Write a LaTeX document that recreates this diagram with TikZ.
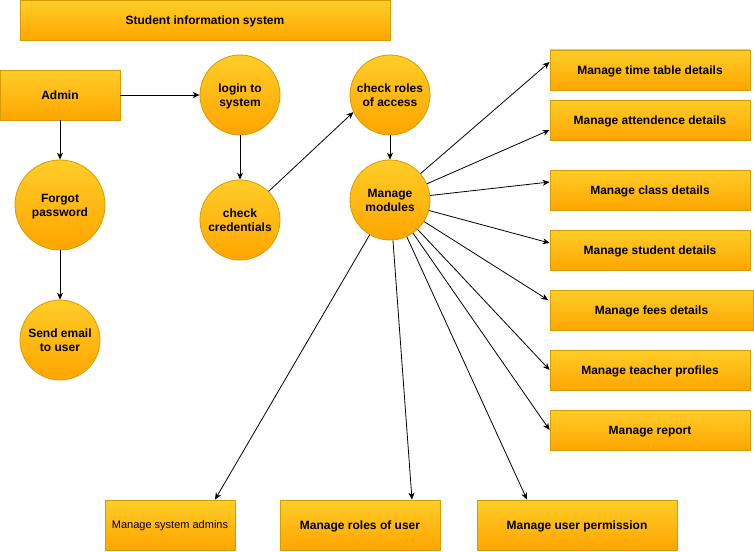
\documentclass[tikz,border=0pt]{standalone}
\usepackage{fontspec}
\setmainfont{Liberation Sans}
\usetikzlibrary{arrows.meta}
\definecolor{boxtop}{HTML}{FFCD28}
\definecolor{boxbot}{HTML}{FFA500}
\definecolor{boxline}{HTML}{D79B00}
\begin{document}
\begin{tikzpicture}[>={Stealth[length=7pt,width=6pt]}, x=1pt, y=-1pt,
        every node/.style={font=\fontsize{12}{14}\selectfont\bfseries, align=center, text depth=0pt},
        box/.style={draw=boxline, line width=0.8pt, top color=boxtop, bottom color=boxbot, minimum height=40pt, inner sep=0pt},
        proc/.style={draw=boxline, line width=0.8pt, top color=boxtop, bottom color=boxbot, circle, minimum size=80pt, inner sep=0pt},
        flow/.style={->, line width=0.8pt}]
                \useasboundingbox (0,0) rectangle (754,551);
                % title and start
                \node[box, minimum width=370pt] (title) at (205,20) {Student information system};
                \node[box, minimum width=120pt, minimum height=50pt] (admin) at (60,95) {Admin};
                \node[proc, minimum size=90pt] (forgot) at (60,205) {Forgot\\password};
                \node[proc] (email) at (60,340) {Send email\\to user};
                \node[proc] (login) at (240,95) {login to\\system};
                \node[proc] (cred) at (240,220) {check\\credentials};
                \node[proc] (roles) at (390,95) {check roles\\of access};
                \node[proc] (mods) at (390,200) {Manage\\modules};
                % modules on the right
                \node[box, minimum width=200pt] (timetab) at (650,70) {Manage time table details};
                \node[box, minimum width=200pt] (attend) at (650,120) {Manage attendence details};
                \node[box, minimum width=200pt] (class) at (650,190) {Manage class details};
                \node[box, minimum width=200pt] (student) at (650,250) {Manage student details};
                \node[box, minimum width=203pt] (fees) at (651.5,310) {Manage fees details};
                \node[box, minimum width=200pt] (teacher) at (650,370) {Manage teacher profiles};
                \node[box, minimum width=200pt] (report) at (650,430) {Manage report};
                % modules below
                \node[box, minimum width=130pt, minimum height=50pt, font=\fontsize{11}{13}\selectfont] (sysadm) at (170,525) {Manage system admins};
                \node[box, minimum width=160pt, minimum height=50pt] (userrole) at (360,525) {Manage roles of user};
                \node[box, minimum width=200pt, minimum height=50pt] (userperm) at (577,525) {Manage user permission};
                % flows
                \draw[flow] (admin) -- (login);
                \draw[flow] (admin) -- (forgot);
                \draw[flow] (forgot) -- (email);
                \draw[flow] (login) -- (cred);
                \draw[flow] (cred.45) -- (roles.205);
                \draw[flow] (roles) -- (mods);
                \draw[flow] (mods) -- ([yshift=8pt]timetab.west);
                \draw[flow] (mods) -- ([yshift=-10pt]attend.west);
                \draw[flow] (mods) -- ([yshift=8pt]class.west);
                \draw[flow] (mods) -- ([yshift=7pt]student.west);
                \draw[flow] (mods) -- ([yshift=10pt, xshift=-1.5pt]fees.west);
                \draw[flow] (mods) -- (teacher.west);
                \draw[flow] (mods) -- (report.west);
                \draw[flow] (mods) -- ([xshift=45pt]sysadm.north);
                \draw[flow] (mods) -- ([xshift=52pt]userrole.north);
                \draw[flow] (mods) -- ([xshift=-50pt]userperm.north);
\end{tikzpicture}
\end{document}
